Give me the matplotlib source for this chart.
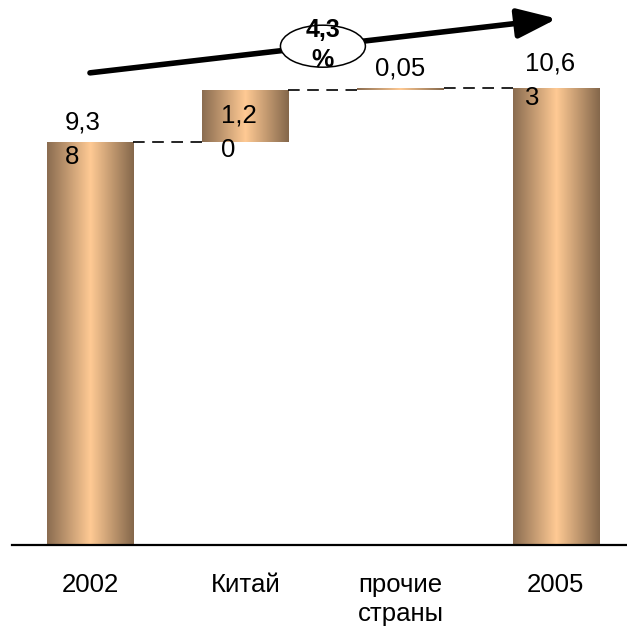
import numpy as np
import matplotlib
matplotlib.use("Agg")
import matplotlib.pyplot as plt
from matplotlib.colors import LinearSegmentedColormap
from matplotlib.patches import Ellipse

plt.rcParams['font.family'] = ['Liberation Sans', 'DejaVu Sans']

categories = ['2002', 'Китай', 'прочие\nстраны', '2005']
values = [9.38, 1.20, 0.05, 10.63]
is_total = [True, False, False, True]
value_labels = ['9,3\n8', '1,2\n0', '0,05', '10,6\n3']
growth_label = '4,3\n%'

# label placement offsets (relative to bar) in data units
label_dx = [-0.045, -0.04, 0.0, -0.04]

fig = plt.figure(figsize=(6.27, 6.29), dpi=100)
ax = fig.add_axes([12 / 627, 84 / 629, 1 - 12 / 627, 545 / 629])

x = np.arange(len(categories))
bottoms = []
run = 0.0
for v, t in zip(values, is_total):
    if t:
        bottoms.append(0.0)
        run = v
    else:
        bottoms.append(run)
        run += v

width = 0.555
bars = ax.bar(x, values, width=width, bottom=bottoms, color='none', edgecolor='none')

cmap = LinearSegmentedColormap.from_list(
    'bronze', ['#8a6c50', '#ffca94', '#84674b'])
grad = np.linspace(0, 1, 256).reshape(1, -1)
for b in bars:
    x0, y0 = b.get_x(), b.get_y()
    w, h = b.get_width(), b.get_height()
    im = ax.imshow(grad, cmap=cmap, aspect='auto', extent=(x0, x0 + w, y0, y0 + h),
                   interpolation='bilinear', zorder=2)
    im.set_clip_path(b)

# dashed connectors
tops = [b_ + v for b_, v in zip(bottoms, values)]
for i in range(len(values) - 1):
    level = tops[i]
    ax.plot([x[i] + width / 2, x[i + 1] - width / 2], [level, level],
            color='black', lw=1.2, dashes=(7, 4.5), zorder=3)

# value labels
fs = 18.5
for i, (lab, b_, v) in enumerate(zip(value_labels, bottoms, values)):
    if i == 0:
        y = tops[i] + 0.05
    elif i == 1:
        y = bottoms[i] + 0.2
    elif i == 2:
        y = tops[i] + 0.46
    else:
        y = tops[i] + 0.16
    ax.text(x[i] + label_dx[i], y, lab, ha='center', va='center',
            multialignment='left', fontsize=fs, linespacing=1.55, zorder=5)

# growth arrow
ax.annotate('', xy=(3.007, 12.24), xytext=(0.0, 10.98),
            arrowprops=dict(arrowstyle='-|>,head_length=0.4,head_width=0.15',
                            mutation_scale=60, lw=4.0, color='black',
                            shrinkA=0, shrinkB=0), zorder=4)
ell = Ellipse((1.50, 11.60), 0.547, 0.977, facecolor='white', edgecolor='black',
              lw=1.1, zorder=6)
ax.add_patch(ell)
ax.text(1.50, 11.62, growth_label, ha='center', va='center', fontsize=fs - 0.5,
        fontweight='bold', linespacing=1.3, zorder=7)

ax.set_xlim(-0.502, 3.458)
ax.set_ylim(0, 545 / 43)
ax.set_xticks(x)
ax.set_xticklabels(categories, fontsize=fs, linespacing=1.3)
ax.tick_params(axis='x', length=0, pad=20)
ax.set_yticks([])
for s in ['top', 'right', 'left']:
    ax.spines[s].set_visible(False)
ax.spines['bottom'].set_linewidth(1.6)
ax.patch.set_alpha(0)

fig.savefig('out.png', dpi=100)
